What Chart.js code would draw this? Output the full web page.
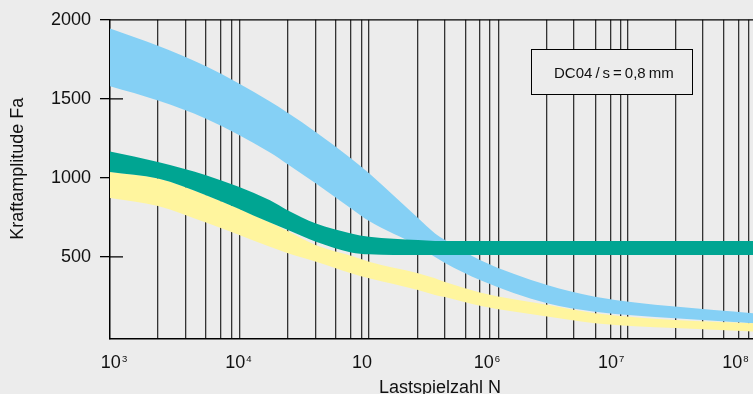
<!DOCTYPE html>
<html lang="de">
<head>
    <meta charset="UTF-8">
    <title>Kraftamplitude / Lastspielzahl</title>
    <style>
        body {
            margin: 0;
            background: #ececec;
            font-family: 'Liberation Sans', Arial, sans-serif;
        }
        .chart-container {
            position: relative;
            width: 753px;
            height: 394px;
        }
    </style>
</head>
<body>
    <div class="chart-container">
        <canvas id="myChart"></canvas>
    </div>

    <script src="https://cdn.jsdelivr.net/npm/chart.js@4.4.1/dist/chart.umd.min.js"></script>
    <script>
        // Lastspielzahl N
        const cycles = [937, 2280, 5550, 18150, 25340, 42550, 81500, 113800, 281800, 386000, 464700, 887000, 3.08e6, 7.48e6, 3.29e7, 1.396e8];

        // Kraftamplitude Fa, band edges
        const blueUpper   = [1945, 1836, 1706, 1483, 1410, 1289, 1123, 1029, 745, 648, 606, 480, 322, 248, 185, 143];
        const blueLower   = [1579, 1489, 1374, 1161, 1085, 964, 806, 726, 568, 499, 461, 353, 206, 153, 112, 80];
        const tealUpper   = [1167, 1100, 1016, 858, 793, 711, 648, 627, 606, 600, 600, 600, 600, 600, 600, 600];
        const tealLower   = [1037, 995, 890, 717, 669, 595, 528, 516, 511, 511, 511, 511, 511, 511, 511, 511];
        const yellowUpper = [1037, 995, 890, 717, 662, 574, 507, 469, 396, 364, 340, 275, 196, 143, 101, 80];
        const yellowLower = [873, 822, 717, 563, 522, 469, 396, 364, 290, 259, 245, 190, 122, 80, 49, 27];

        // axis ticks
        const xTickValues = [1e3, 1e4, 1e5, 1e6, 1e7, 1e8];
        const xTickBase = '10';
        const xTickExp = ['3', '4', '', '6', '7', '8'];
        const yTickValues = [500, 1000, 1500, 2000];
        const gridValues = [2280, 3796, 5548, 7324, 8865, 10283, 25340, 42420, 61660, 81430, 99260, 113200,
            279100, 461800, 678800, 888200, 1.069e6, 1.247e6, 3.073e6, 5.067e6, 7.547e6, 1e7, 1.199e7,
            1.378e7, 3.353e7, 5.528e7, 8.155e7, 1.073e8, 1.279e8];

        // texts
        const xTitle = 'Lastspielzahl N';
        const yTitle = 'Kraftamplitude Fa';
        const noteText = 'DC04\u2009/\u2009s\u2009=\u20090,8\u2009mm';
        const noteBox = { xFrom: 2.27e6, xTo: 4.45e7, yFrom: 1529, yTo: 1815 };
        const noteAnchor = { x: 1.06e7, y: 1655 };

        const pts = arr => arr.map((v, i) => ({ x: cycles[i], y: v }));

        const FONT = "'Liberation Sans', Arial, sans-serif";
        Chart.defaults.font.family = FONT;

        const band = (data, color, fill) => ({
            data: pts(data),
            backgroundColor: color,
            borderColor: 'transparent',
            borderWidth: 0,
            pointRadius: 0,
            cubicInterpolationMode: 'monotone',
            fill: fill
        });

        // extra drawing: inner tick marks, top frame, x labels, titles, note box
        const frame = {
            id: 'frame',
            beforeDatasetsDraw(chart) {
                const { ctx, chartArea, scales: { y } } = chart;
                ctx.save();
                ctx.strokeStyle = '#000';
                ctx.lineWidth = 1.3;
                ctx.beginPath();
                yTickValues.forEach(v => {
                    const py = y.getPixelForValue(v);
                    ctx.moveTo(chartArea.left, py);
                    ctx.lineTo(chartArea.left + 13, py);
                });
                const top = y.getPixelForValue(2000);
                ctx.moveTo(chartArea.left, top);
                ctx.lineTo(chartArea.right, top);
                ctx.stroke();
                ctx.restore();
            },
            afterDraw(chart) {
                const { ctx, chartArea, scales: { x, y } } = chart;
                ctx.save();
                ctx.fillStyle = '#111';

                // x tick labels with exponent
                xTickValues.forEach((v, i) => {
                    const px = x.getPixelForValue(v);
                    ctx.font = '18px ' + FONT;
                    const wb = ctx.measureText(xTickBase).width;
                    ctx.font = '9.5px ' + FONT;
                    const we = ctx.measureText(xTickExp[i]).width;
                    const left = px - (wb + we) / 2;
                    ctx.textAlign = 'left';
                    ctx.textBaseline = 'alphabetic';
                    ctx.font = '18px ' + FONT;
                    ctx.fillText(xTickBase, left, chartArea.bottom + 29.4);
                    ctx.font = '9.5px ' + FONT;
                    ctx.fillText(xTickExp[i], left + wb + 1, chartArea.bottom + 23.4);
                });

                // x axis title
                ctx.font = '18px ' + FONT;
                ctx.textAlign = 'center';
                ctx.fillText(xTitle, chartArea.left + 330, chartArea.bottom + 54);

                // note box
                const x1 = x.getPixelForValue(noteBox.xFrom), x2 = x.getPixelForValue(noteBox.xTo);
                const y1 = y.getPixelForValue(noteBox.yTo), y2 = y.getPixelForValue(noteBox.yFrom);
                ctx.fillStyle = '#ececec';
                ctx.fillRect(x1, y1, x2 - x1, y2 - y1);
                ctx.strokeStyle = '#000';
                ctx.lineWidth = 1;
                ctx.strokeRect(Math.round(x1) + 0.5, Math.round(y1) + 0.5, Math.round(x2 - x1), Math.round(y2 - y1));
                ctx.fillStyle = '#111';
                ctx.font = '15px ' + FONT;
                ctx.textBaseline = 'middle';
                ctx.fillText(noteText, x.getPixelForValue(noteAnchor.x), y.getPixelForValue(noteAnchor.y));

                // y axis title
                ctx.translate(18, chartArea.top + 149);
                ctx.rotate(-Math.PI / 2);
                ctx.font = '18px ' + FONT;
                ctx.fillText(yTitle, 0, 0);
                ctx.restore();
            }
        };

        const ctx = document.getElementById('myChart');
        new Chart(ctx, {
            type: 'line',
            data: {
                datasets: [
                    band(tealUpper, '#00a592', '+1'),
                    band(tealLower, 'transparent', false),
                    band(yellowUpper, '#fff59e', '+1'),
                    band(yellowLower, 'transparent', false),
                    band(blueUpper, '#85d0f5', '+1'),
                    band(blueLower, 'transparent', false)
                ]
            },
            options: {
                responsive: true,
                maintainAspectRatio: false,
                animation: false,
                layout: { padding: { top: 18.5, left: 0, right: 0, bottom: 0 } },
                plugins: {
                    legend: { display: false },
                    tooltip: { enabled: false }
                },
                scales: {
                    x: {
                        type: 'logarithmic',
                        min: 937,
                        max: 1.396e8,
                        afterBuildTicks(scale) {
                            scale.ticks = gridValues.map(v => ({ value: v }));
                        },
                        afterFit(scale) {
                            scale.height = 55;
                            scale.paddingLeft = 0;
                            scale.paddingRight = 0;
                        },
                        grid: {
                            drawTicks: false,
                            color: '#333',
                            lineWidth: 1.3
                        },
                        border: { color: '#000', width: 1.5 },
                        ticks: { display: false, autoSkip: false }
                    },
                    y: {
                        min: -20,
                        max: 2000,
                        afterBuildTicks(scale) {
                            scale.ticks = yTickValues.map(v => ({ value: v }));
                        },
                        afterFit(scale) { scale.width = 110; },
                        grid: {
                            drawOnChartArea: false,
                            tickLength: 10,
                            tickColor: '#000',
                            lineWidth: 1.3
                        },
                        border: { color: '#000', width: 1.5 },
                        ticks: {
                            padding: 9,
                            color: '#111',
                            font: { size: 18 },
                            callback: v => String(v)
                        }
                    }
                }
            },
            plugins: [frame]
        });
    </script>
</body>
</html>
